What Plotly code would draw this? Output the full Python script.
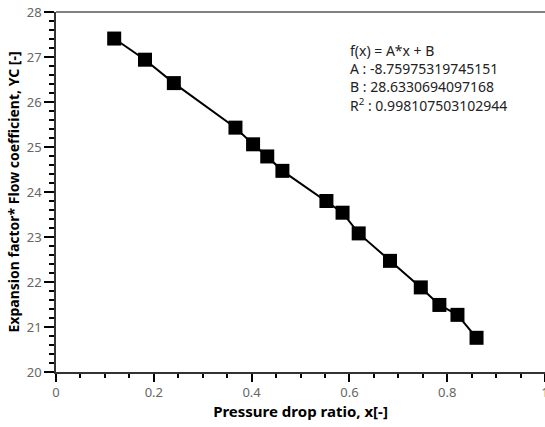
import plotly.graph_objects as go

x_vals = [0.119, 0.182, 0.241, 0.367, 0.403, 0.432, 0.463, 0.553, 0.586, 0.619,
          0.683, 0.746, 0.784, 0.821, 0.860]
y_vals = [27.41, 26.94, 26.42, 25.43, 25.06, 24.79, 24.47, 23.80, 23.54, 23.08,
          22.47, 21.88, 21.49, 21.27, 20.76]

fit_lines = ["f(x) = A*x + B",
             "A : -8.75975319745151",
             "B : 28.6330694097168",
             "R<sup>2</sup> : 0.998107503102944"]

FONT = "Noto Sans"

fig = go.Figure()
fig.add_trace(go.Scatter(
    x=x_vals, y=y_vals, mode="lines+markers",
    line=dict(color="black", width=2),
    marker=dict(symbol="square", size=14, color="black"),
    showlegend=False,
))

fig.update_layout(
    width=545, height=427,
    margin=dict(l=56, r=0, t=12, b=55),
    paper_bgcolor="white", plot_bgcolor="white",
    font=dict(family=FONT, size=13, color="#666666"),
    xaxis=dict(
        range=[0, 1], dtick=0.2, automargin=False,
        showgrid=False, zeroline=False,
        showline=True, linecolor="#333333", linewidth=1.5,
        ticks="outside", ticklen=8, tickcolor="black", tickwidth=1.5,
        tickfont=dict(size=13, color="#666666"),
        ticklabeloverflow="allow",
        minor=dict(dtick=0.05, ticks="outside", ticklen=4, tickcolor="black", tickwidth=1.5),
        title=dict(text="<b>Pressure drop ratio, x[-]</b>",
                   font=dict(size=15, color="black", family=FONT), standoff=6),
    ),
    yaxis=dict(
        range=[20, 28], dtick=1, automargin=False,
        showgrid=False, zeroline=False,
        showline=True, linecolor="#333333", linewidth=1.5,
        ticks="outside", ticklen=10, tickcolor="black", tickwidth=1.5,
        tickfont=dict(size=13, color="#666666"),
        minor=dict(dtick=0.2, ticks="outside", ticklen=5, tickcolor="black", tickwidth=1.5),
        title=dict(text="<b>Expansion factor* Flow coefficient, YC [-]</b>",
                   font=dict(size=14, color="black", family=FONT), standoff=4),
    ),
    annotations=[dict(
        text="<br>".join(fit_lines), xref="paper", yref="paper",
        x=0.597, y=1 - (39 - 12) / 360,
        xanchor="left", yanchor="top", align="left", showarrow=False,
        font=dict(size=14, color="#222222", family=FONT),
    )],
    shapes=[dict(type="line", xref="paper", yref="paper", x0=0, x1=1, y0=1, y1=1,
                 line=dict(color="#808080", width=2))],
)

fig.write_html("out.html")
